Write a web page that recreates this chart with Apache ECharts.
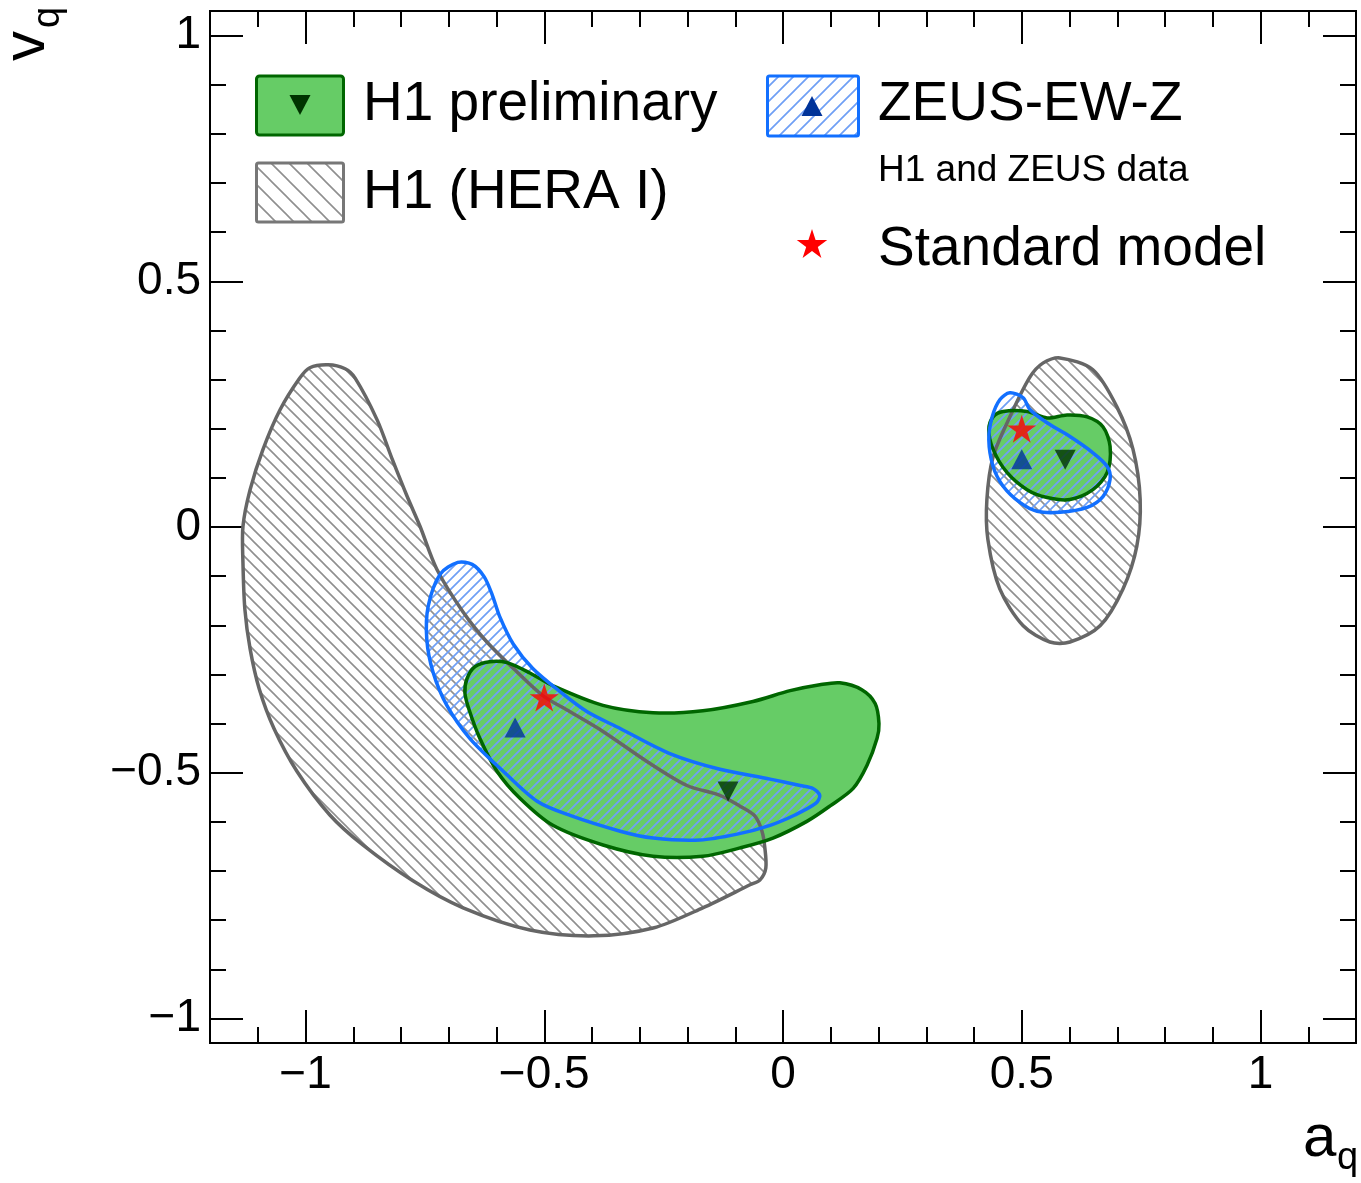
<!DOCTYPE html>
<html>
<head>
<meta charset="utf-8">
<title>Quark couplings to the Z boson</title>
<script src="https://cdn.jsdelivr.net/npm/echarts@6/dist/echarts.min.js"></script>
<style>
  html, body { margin: 0; padding: 0; background: #ffffff; }
  #chart { width: 1361px; height: 1183px; }
</style>
</head>
<body>
<div id="chart"></div>
<script>
// ---- Data: 68% CL contours in the (a_q, v_q) plane, each point is [a_q, v_q] ----

// H1 (HERA I), d-type quark
const h1HeraDown = [
  [-0.953, 0.330], [-0.917, 0.322], [-0.896, 0.303], [-0.850, 0.218], [-0.818, 0.137],
  [-0.787, 0.062], [-0.760, 0.001], [-0.725, -0.086], [-0.670, -0.173], [-0.620, -0.234],
  [-0.557, -0.295], [-0.503, -0.343], [-0.446, -0.376], [-0.377, -0.416], [-0.285, -0.477],
  [-0.201, -0.526], [-0.132, -0.546], [-0.090, -0.568], [-0.059, -0.588], [-0.044, -0.619],
  [-0.038, -0.653], [-0.036, -0.694], [-0.048, -0.718], [-0.069, -0.728], [-0.168, -0.775],
  [-0.272, -0.816], [-0.396, -0.832], [-0.530, -0.820], [-0.670, -0.775], [-0.775, -0.720],
  [-0.880, -0.647], [-0.949, -0.586], [-1.018, -0.497], [-1.066, -0.410], [-1.097, -0.329],
  [-1.116, -0.248], [-1.127, -0.167], [-1.131, -0.072], [-1.131, 0.001], [-1.116, 0.076],
  [-1.089, 0.158], [-1.053, 0.239], [-1.012, 0.303], [-0.991, 0.324]
];
// H1 (HERA I), u-type quark
const h1HeraUp = [
  [0.580, 0.344], [0.649, 0.320], [0.699, 0.245], [0.733, 0.158], [0.748, 0.056],
  [0.741, -0.039], [0.712, -0.126], [0.664, -0.201], [0.601, -0.234], [0.559, -0.234],
  [0.503, -0.201], [0.454, -0.126], [0.429, -0.025], [0.427, 0.056], [0.440, 0.143],
  [0.475, 0.224], [0.517, 0.305], [0.545, 0.334]
];
// H1 preliminary, d-type quark
const h1PrelimDown = [
  [-0.662, -0.309], [-0.645, -0.284], [-0.614, -0.274], [-0.578, -0.276], [-0.530, -0.297],
  [-0.482, -0.323], [-0.377, -0.363], [-0.272, -0.378], [-0.168, -0.374], [-0.063, -0.355],
  [0.015, -0.333], [0.077, -0.321], [0.119, -0.317], [0.165, -0.331], [0.193, -0.359],
  [0.201, -0.400], [0.197, -0.430], [0.176, -0.485], [0.147, -0.532], [0.098, -0.568],
  [0.050, -0.599], [-0.021, -0.633], [-0.090, -0.653], [-0.168, -0.670], [-0.272, -0.670],
  [-0.377, -0.647], [-0.482, -0.607], [-0.551, -0.552], [-0.599, -0.497], [-0.635, -0.430],
  [-0.656, -0.376], [-0.666, -0.339]
];
// H1 preliminary, u-type quark
const h1PrelimUp = [
  [0.440, 0.224], [0.461, 0.235], [0.511, 0.235], [0.553, 0.222], [0.595, 0.228],
  [0.637, 0.224], [0.670, 0.204], [0.685, 0.164], [0.679, 0.111], [0.649, 0.076],
  [0.601, 0.056], [0.553, 0.060], [0.511, 0.076], [0.469, 0.111], [0.440, 0.158],
  [0.431, 0.198]
];
// ZEUS-EW-Z, d-type quark
const zeusDown = [
  [-0.681, -0.072], [-0.651, -0.076], [-0.626, -0.101], [-0.609, -0.138], [-0.593, -0.183],
  [-0.565, -0.238], [-0.524, -0.288], [-0.467, -0.335], [-0.410, -0.376], [-0.341, -0.410],
  [-0.237, -0.461], [-0.132, -0.493], [-0.027, -0.513], [0.036, -0.526], [0.063, -0.532],
  [0.077, -0.546], [0.069, -0.562], [0.025, -0.586], [-0.027, -0.607], [-0.096, -0.625],
  [-0.174, -0.637], [-0.272, -0.633], [-0.341, -0.619], [-0.446, -0.587], [-0.515, -0.558],
  [-0.586, -0.497], [-0.656, -0.430], [-0.704, -0.363], [-0.733, -0.295], [-0.746, -0.228],
  [-0.743, -0.161], [-0.718, -0.096]
];
// ZEUS-EW-Z, u-type quark
const zeusUp = [
  [0.475, 0.273], [0.503, 0.263], [0.517, 0.239], [0.553, 0.212], [0.601, 0.184],
  [0.649, 0.151], [0.679, 0.123], [0.685, 0.097], [0.670, 0.062], [0.637, 0.040],
  [0.580, 0.030], [0.532, 0.032], [0.496, 0.050], [0.461, 0.083], [0.440, 0.123],
  [0.431, 0.178], [0.438, 0.224], [0.454, 0.259]
];

// Best-fit points and Standard Model expectation, [a_q, v_q]
const h1PrelimBest = [[-0.115, -0.538], [0.591, 0.137]];
const zeusBest = [[-0.561, -0.408], [0.500, 0.138]];
const standardModel = [[-0.5, -0.347], [0.5, 0.2]];

// Axis ticks
const majorTicks = [-1, -0.5, 0, 0.5, 1];
const xMinorTicks = [-1.1, -1.0, -0.9, -0.8, -0.7, -0.6, -0.5, -0.4, -0.3, -0.2, -0.1, 0,
  0.1, 0.2, 0.3, 0.4, 0.5, 0.6, 0.7, 0.8, 0.9, 1.0, 1.1];
const yMinorTicks = [-1.0, -0.9, -0.8, -0.7, -0.6, -0.5, -0.4, -0.3, -0.2, -0.1, 0,
  0.1, 0.2, 0.3, 0.4, 0.5, 0.6, 0.7, 0.8, 0.9, 1.0];

// ---- Styling ----
const FONT = '"Liberation Sans", Arial, Helvetica, sans-serif';
const GREEN_FILL = '#66cc66';
const GREEN_LINE = '#006600';
const BLUE_LINE = '#1270ff';
const BLUE_HATCH = '#6f9ff5';
const GRAY_LINE = '#666666';
const GRAY_HATCH = '#8f8f8f';
const LINE_W = 3.5;

// Repeating diagonal-line texture. dir 'back' draws "\" lines, 'fwd' draws "/" lines.
function hatch(color, s, width, dir) {
  const c = document.createElement('canvas');
  c.width = s; c.height = s;
  const g = c.getContext('2d');
  g.strokeStyle = color;
  g.lineWidth = width;
  g.beginPath();
  for (let k = -1; k <= 1; k++) {
    const off = k * s;
    if (dir === 'back') {
      g.moveTo(off - s, -s); g.lineTo(off + 2 * s, 2 * s);
    } else {
      const cc = off + s;
      g.moveTo(cc + s, -s); g.lineTo(cc - 2 * s, 2 * s);
    }
  }
  g.stroke();
  return { image: c, repeat: 'repeat' };
}

const grayHatchPlot = hatch(GRAY_HATCH, 12, 1.6, 'back');
const blueHatchPlot = hatch(BLUE_HATCH, 10, 1.7, 'fwd');
const grayHatchKey = hatch(GRAY_HATCH, 18, 1.6, 'back');
const blueHatchKey = hatch(BLUE_HATCH, 15, 1.7, 'fwd');

// A closed contour drawn through the cartesian axes
function contour(points, z, style) {
  return {
    type: 'custom',
    coordinateSystem: 'cartesian2d',
    xAxisIndex: 0,
    yAxisIndex: 0,
    z: z,
    silent: true,
    data: points,
    encode: { x: 0, y: 1 },
    renderItem: function (params, api) {
      if (params.context.rendered) return;
      params.context.rendered = true;
      const pts = points.map(function (p) { return api.coord(p); });
      return {
        type: 'polygon',
        shape: { points: pts, smooth: 0.3 },
        style: style
      };
    }
  };
}
function filled(points, z, fill) {
  return contour(points, z, { fill: fill, stroke: 'none' });
}
function outlined(points, z, color) {
  return contour(points, z, { fill: 'none', stroke: color, lineWidth: LINE_W, lineJoin: 'round' });
}

const STAR_PATH = 'path://M100,0L122.45,69.1L195.1,69.1L136.3,111.8L158.8,180.9L100,138.2L41.2,180.9L63.7,111.8L4.9,69.1L77.55,69.1Z';

function fmtTick(v) {
  return v < 0 ? '\u2212' + String(-v) : String(v);
}

const tickLine = { color: '#000', width: 2 };
const baseX = { type: 'value', min: -1.2, max: 1.2, splitLine: { show: false },
  axisLine: { show: false, onZero: false } };
const baseY = { type: 'value', min: -1.05, max: 1.05, splitLine: { show: false },
  axisLine: { show: false, onZero: false } };
const labelStyle = { fontFamily: FONT, fontSize: 46, lineHeight: 46, color: '#000' };

function majorAxis(base, position, withLabels) {
  return Object.assign({}, base, {
    position: position,
    axisTick: { show: true, inside: true, length: 33, customValues: majorTicks, lineStyle: tickLine },
    axisLabel: withLabels
      ? Object.assign({ show: true, margin: 9, customValues: majorTicks, formatter: fmtTick }, labelStyle)
      : { show: false }
  });
}
function minorAxis(base, position, ticks) {
  return Object.assign({}, base, {
    position: position,
    axisTick: { show: true, inside: true, length: 16, customValues: ticks, lineStyle: tickLine },
    axisLabel: { show: false }
  });
}

// Legend drawing helpers (pixel layout of the key)
function triangle(cx, cy, w, h, pointDown) {
  return pointDown
    ? [[cx - w / 2, cy - h / 2], [cx + w / 2, cy - h / 2], [cx, cy + h / 2]]
    : [[cx - w / 2, cy + h / 2], [cx + w / 2, cy + h / 2], [cx, cy - h / 2]];
}
function star(cx, cy, R) {
  const pts = [];
  for (let i = 0; i < 10; i++) {
    const r = i % 2 === 0 ? R : R * 0.382;
    const ang = -Math.PI / 2 + i * Math.PI / 5;
    pts.push([cx + r * Math.cos(ang), cy + r * Math.sin(ang)]);
  }
  return pts;
}
function keyText(x, y, text, size) {
  return { type: 'text', x: x, y: y, z: 100,
    style: { text: text, fontFamily: FONT, fontSize: size, fill: '#000', align: 'left', verticalAlign: 'middle' } };
}

const chart = echarts.init(document.getElementById('chart'), null, { renderer: 'canvas' });

chart.setOption({
  animation: false,
  backgroundColor: '#ffffff',
  grid: {
    left: 210, right: 5, top: 11, bottom: 140,
    show: true, borderColor: '#000', borderWidth: 2, backgroundColor: 'transparent',
    containLabel: false, outerBoundsMode: 'none'
  },
  xAxis: [
    majorAxis(baseX, 'bottom', true),
    minorAxis(baseX, 'bottom', xMinorTicks),
    majorAxis(baseX, 'top', false),
    minorAxis(baseX, 'top', xMinorTicks)
  ],
  yAxis: [
    majorAxis(baseY, 'left', true),
    minorAxis(baseY, 'left', yMinorTicks),
    majorAxis(baseY, 'right', false),
    minorAxis(baseY, 'right', yMinorTicks)
  ],
  series: [
    filled(h1HeraDown, 2, grayHatchPlot),
    filled(h1HeraUp, 2, grayHatchPlot),
    filled(h1PrelimDown, 3, GREEN_FILL),
    filled(h1PrelimUp, 3, GREEN_FILL),
    filled(zeusDown, 4, blueHatchPlot),
    filled(zeusUp, 4, blueHatchPlot),
    outlined(h1HeraDown, 5, GRAY_LINE),
    outlined(h1HeraUp, 5, GRAY_LINE),
    outlined(h1PrelimDown, 6, GREEN_LINE),
    outlined(h1PrelimUp, 6, GREEN_LINE),
    outlined(zeusDown, 7, BLUE_LINE),
    outlined(zeusUp, 7, BLUE_LINE),
    {
      name: 'H1 preliminary', type: 'scatter', z: 10, silent: true,
      data: h1PrelimBest, symbol: 'triangle', symbolRotate: 180, symbolSize: [21, 20],
      itemStyle: { color: '#003300' }
    },
    {
      name: 'ZEUS-EW-Z', type: 'scatter', z: 10, silent: true,
      data: zeusBest, symbol: 'triangle', symbolSize: [21, 20],
      itemStyle: { color: '#003399' }
    },
    {
      name: 'Standard model', type: 'scatter', z: 11, silent: true,
      data: standardModel, symbol: STAR_PATH, symbolSize: [29, 28],
      itemStyle: { color: '#ff0000' }
    }
  ],
  graphic: [
    // key: H1 preliminary
    { type: 'rect', z: 100, shape: { x: 256.5, y: 76, width: 87, height: 59, r: 3 },
      style: { fill: GREEN_FILL, stroke: GREEN_LINE, lineWidth: 3 } },
    { type: 'polygon', z: 101, shape: { points: triangle(300, 105, 21, 20, true) }, style: { fill: '#003300' } },
    keyText(363, 105, 'H1 preliminary', 55),
    // key: H1 (HERA I)
    { type: 'rect', z: 100, shape: { x: 256.5, y: 163, width: 87, height: 59, r: 2 },
      style: { fill: grayHatchKey, stroke: '#777777', lineWidth: 3 } },
    keyText(363, 193, 'H1 (HERA I)', 55),
    // key: ZEUS-EW-Z
    { type: 'rect', z: 100, shape: { x: 767.5, y: 76, width: 91, height: 60, r: 2 },
      style: { fill: blueHatchKey, stroke: BLUE_LINE, lineWidth: 3 } },
    { type: 'polygon', z: 101, shape: { points: triangle(812, 106, 21, 20, false) }, style: { fill: '#003399' } },
    keyText(878, 105, 'ZEUS-EW-Z', 55),
    keyText(878, 171, 'H1 and ZEUS data', 37),
    // key: Standard model
    { type: 'polygon', z: 101, shape: { points: star(812, 245, 16) }, style: { fill: '#ff0000' } },
    keyText(878, 250, 'Standard model', 55),
    // axis titles
    { type: 'text', x: 1303, y: 1139, z: 100,
      style: { text: 'a', fontFamily: FONT, fontSize: 60, fill: '#000', align: 'left', verticalAlign: 'middle' } },
    { type: 'text', x: 1337, y: 1159, z: 100,
      style: { text: 'q', fontFamily: FONT, fontSize: 38, fill: '#000', align: 'left', verticalAlign: 'middle' } },
    { type: 'text', x: 27, y: 61, z: 100, rotation: Math.PI / 2,
      style: { text: 'v', fontFamily: FONT, fontSize: 60, fill: '#000', align: 'left', verticalAlign: 'middle' } },
    { type: 'text', x: 49, y: 28, z: 100, rotation: Math.PI / 2,
      style: { text: 'q', fontFamily: FONT, fontSize: 38, fill: '#000', align: 'left', verticalAlign: 'middle' } }
  ]
});
</script>
</body>
</html>
